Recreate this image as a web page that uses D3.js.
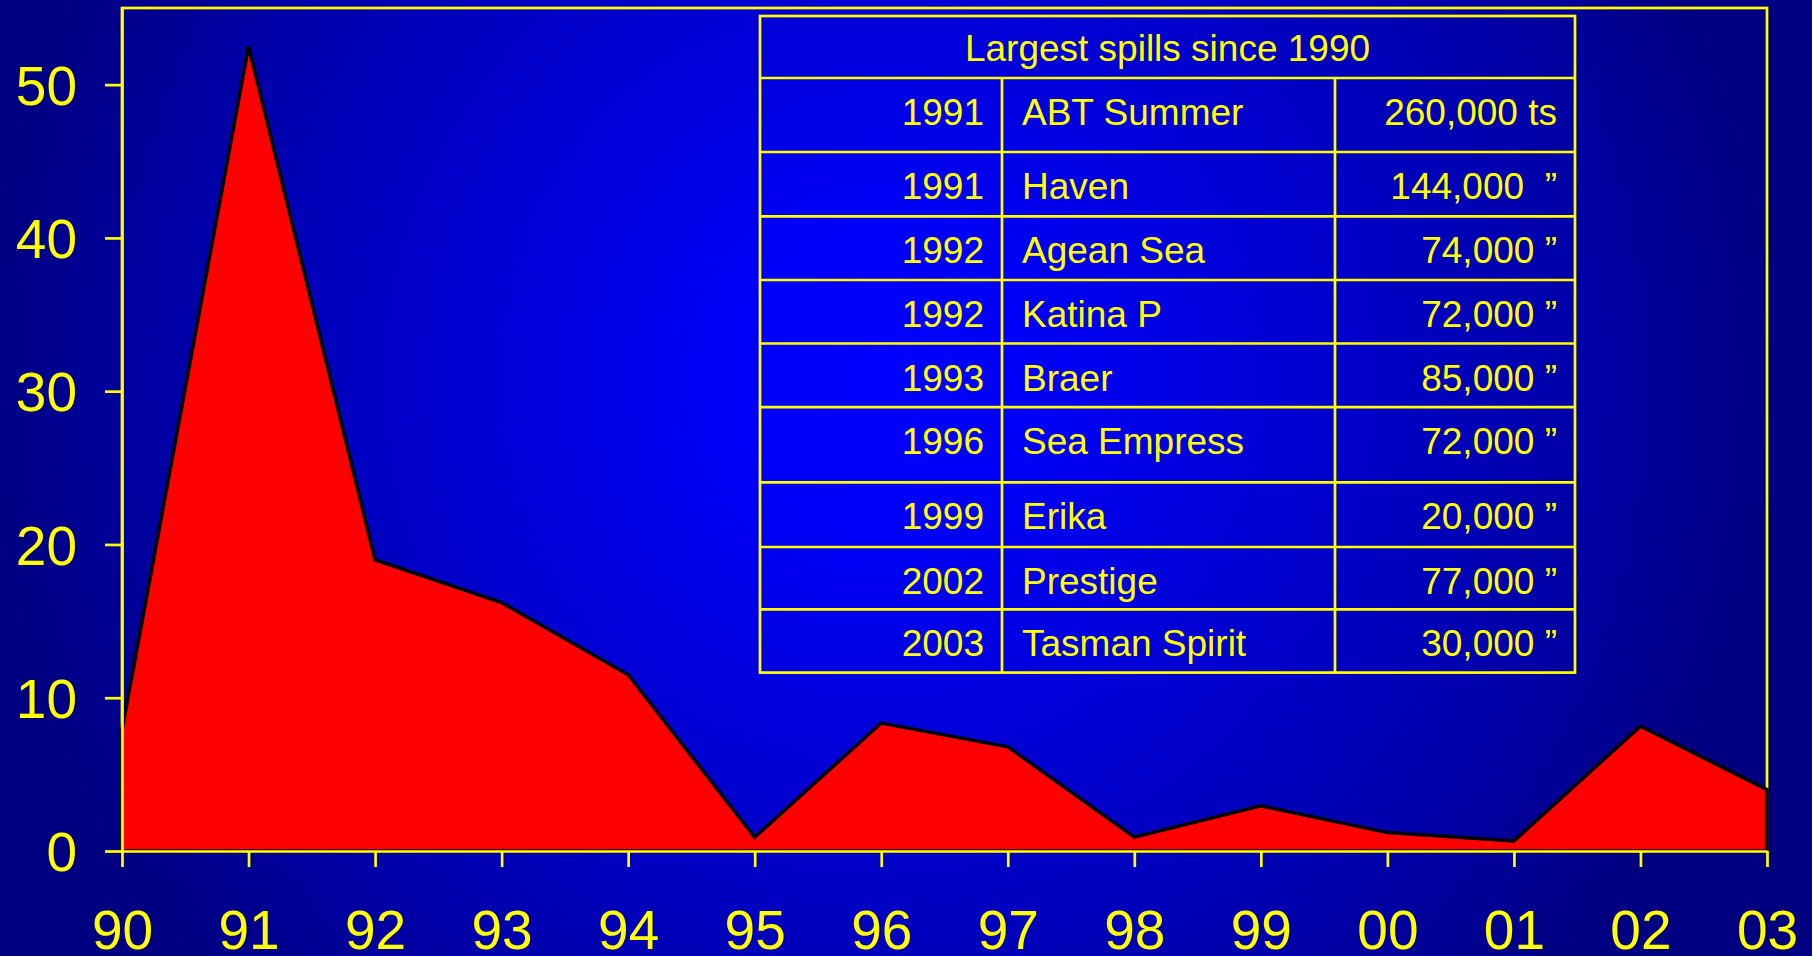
<!DOCTYPE html>
<html>
<head>
<meta charset="utf-8">
<script src="https://cdn.jsdelivr.net/npm/d3@7"></script>
<style>
  html, body { margin: 0; padding: 0; background: #000080; }
  svg { display: block; }
  text { font-family: "Liberation Sans", Arial, sans-serif; fill: #ffff00; white-space: pre; }
</style>
</head>
<body>
<svg id="chart" width="1812" height="956"></svg>
<script>
// oil spilled per year (thousand tonnes)
const years = ["90", "91", "92", "93", "94", "95", "96", "97", "98", "99", "00", "01", "02", "03"];
const spills = [7.9, 52.5, 19, 16.2, 11.5, 0.9, 8.35, 6.8, 0.9, 2.95, 1.2, 0.65, 8.15, 4.0];
const yTicks = [0, 10, 20, 30, 40, 50];

// inset table
const tableTitle = "Largest spills since 1990";
const spillYears = ["1991", "1991", "1992", "1992", "1993", "1996", "1999", "2002", "2003"];
const shipNames = ["ABT Summer", "Haven", "Agean Sea", "Katina P", "Braer", "Sea Empress", "Erika", "Prestige", "Tasman Spirit"];
const tonnages = ["260,000 ts", "144,000  \u201D", "74,000 \u201D", "72,000 \u201D", "85,000 \u201D", "72,000 \u201D", "20,000 \u201D", "77,000 \u201D", "30,000 \u201D"];

const width = 1812, height = 956;
const plotLeft = 122, plotRight = 1767, plotTop = 8, plotBottom = 851;
const yellow = "#ffff00";
const lineW = 2.7;

const svg = d3.select("#chart");

// background
const grad = svg.append("defs").append("radialGradient")
  .attr("id", "bg")
  .attr("gradientUnits", "userSpaceOnUse")
  .attr("cx", 880).attr("cy", 380).attr("r", 1000);
grad.append("stop").attr("offset", 0).attr("stop-color", "#0000ff");
grad.append("stop").attr("offset", 0.15).attr("stop-color", "#0000f8");
grad.append("stop").attr("offset", 0.7).attr("stop-color", "#0000a8");
grad.append("stop").attr("offset", 0.9).attr("stop-color", "#000080");
grad.append("stop").attr("offset", 1).attr("stop-color", "#000080");

svg.append("rect")
  .attr("width", width).attr("height", height)
  .attr("fill", "url(#bg)");

const x = d3.scalePoint().domain(years).range([plotLeft, plotRight]);
const y = d3.scaleLinear().domain([0, 55]).range([plotBottom, plotTop]);

// plot frame
svg.append("rect")
  .attr("x", plotLeft).attr("y", plotTop)
  .attr("width", plotRight - plotLeft).attr("height", plotBottom - plotTop)
  .attr("fill", "none")
  .attr("stroke", yellow)
  .attr("stroke-width", lineW);

// area
const area = d3.area()
  .x((d, i) => x(years[i]))
  .y0(y(0))
  .y1((d) => y(d));

svg.append("path")
  .datum(spills)
  .attr("d", area(spills) + "Z")
  .attr("fill", "#ff0000")
  .attr("stroke", "#000000")
  .attr("stroke-width", 3.5)
  .attr("stroke-linejoin", "miter");

// axes
const yAxis = svg.append("g")
  .attr("transform", `translate(${plotLeft},0)`)
  .call(d3.axisLeft(y).tickValues(yTicks).tickSize(17).tickSizeOuter(0).tickPadding(28));

const xAxis = svg.append("g")
  .attr("transform", `translate(0,${plotBottom})`)
  .call(d3.axisBottom(x).tickSize(16).tickSizeOuter(0));

[yAxis, xAxis].forEach((g) => {
  g.select(".domain").attr("stroke", yellow).attr("stroke-width", lineW);
  g.selectAll(".tick line").attr("stroke", yellow).attr("stroke-width", lineW);
  g.selectAll(".tick text")
    .attr("fill", yellow)
    .style("font-family", "'Liberation Sans', Arial, sans-serif")
    .style("font-size", "55px");
});
yAxis.selectAll(".tick text").attr("dy", "0.36em");
xAxis.selectAll(".tick text").attr("y", 98).attr("dy", 0);

// table
const tLeft = 760, tRight = 1575, col1 = 1002, col2 = 1335;
const tTop = 16, headerH = 62;
const rowHeights = [74, 64.3, 63.7, 63.5, 63.6, 75.2, 64.7, 62.3, 63.3];
const rowTops = [tTop + headerH, ...d3.cumsum(rowHeights).map((h) => tTop + headerH + h)];
const tBottom = rowTops[rowTops.length - 1];

const table = svg.append("g");

table.append("rect")
  .attr("x", tLeft).attr("y", tTop)
  .attr("width", tRight - tLeft).attr("height", tBottom - tTop)
  .attr("fill", "none")
  .attr("stroke", yellow)
  .attr("stroke-width", lineW);

table.selectAll("line.row")
  .data(rowTops.slice(0, -1))
  .join("line")
  .attr("class", "row")
  .attr("x1", tLeft).attr("x2", tRight)
  .attr("y1", (d) => d).attr("y2", (d) => d)
  .attr("stroke", yellow)
  .attr("stroke-width", lineW);

table.selectAll("line.col")
  .data([col1, col2])
  .join("line")
  .attr("class", "col")
  .attr("x1", (d) => d).attr("x2", (d) => d)
  .attr("y1", tTop + headerH).attr("y2", tBottom)
  .attr("stroke", yellow)
  .attr("stroke-width", lineW);

table.append("text")
  .attr("x", (tLeft + tRight) / 2)
  .attr("y", tTop + 45)
  .attr("text-anchor", "middle")
  .style("font-size", "37px")
  .text(tableTitle);

const rows = table.selectAll("g.trow")
  .data(spillYears)
  .join("g")
  .attr("class", "trow")
  .attr("transform", (d, i) => `translate(0,${rowTops[i] + 47})`);

rows.append("text")
  .attr("x", col1 - 18)
  .attr("text-anchor", "end")
  .style("font-size", "37px")
  .text((d) => d);

rows.append("text")
  .attr("x", col1 + 20)
  .style("font-size", "37px")
  .text((d, i) => shipNames[i]);

rows.append("text")
  .attr("x", tRight - 18)
  .attr("text-anchor", "end")
  .style("font-size", "37px")
  .text((d, i) => tonnages[i]);
</script>
</body>
</html>
